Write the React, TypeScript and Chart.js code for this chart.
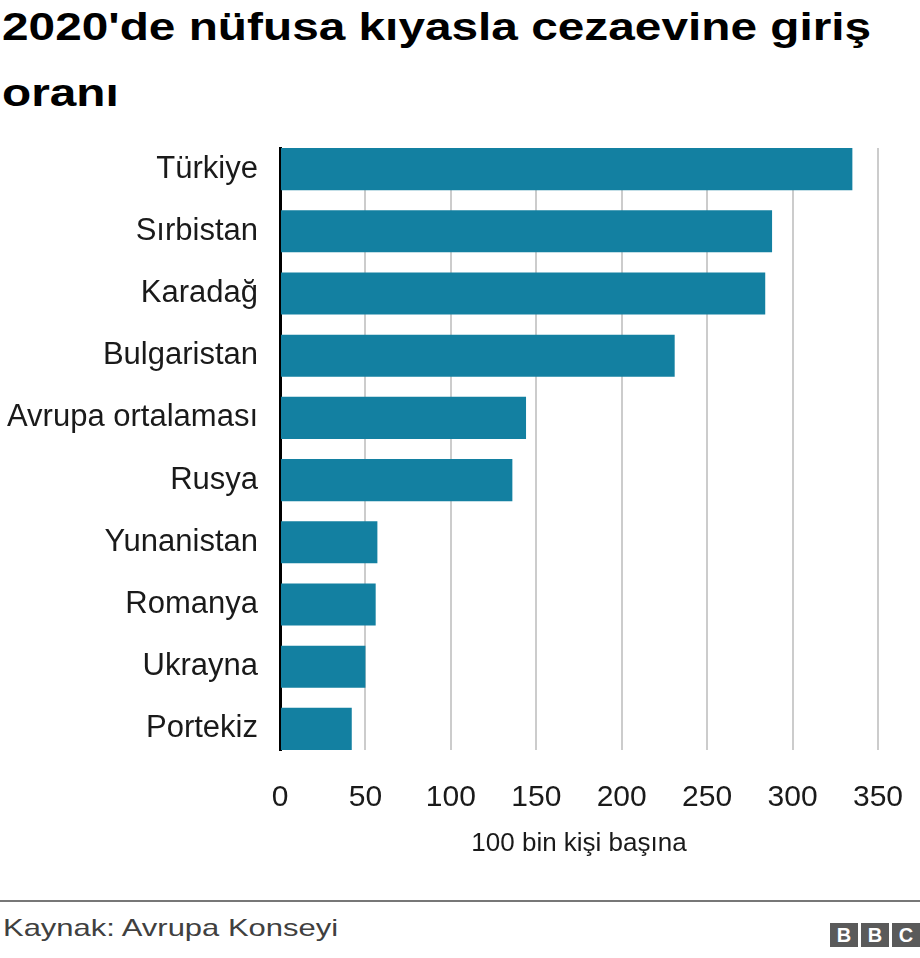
import React, { useEffect, useRef } from "react";
import { Chart, registerables } from "chart.js";

Chart.register(...registerables);

const titleText = "2020'de nüfusa kıyasla cezaevine giriş oranı";
const categories = [
  "Türkiye",
  "Sırbistan",
  "Karadağ",
  "Bulgaristan",
  "Avrupa ortalaması",
  "Rusya",
  "Yunanistan",
  "Romanya",
  "Ukrayna",
  "Portekiz",
];
const values = [335, 288, 284, 231, 144, 136, 57, 56, 50, 42];
const xTicks = [0, 50, 100, 150, 200, 250, 300, 350];
const xAxisTitle = "100 bin kişi başına";
const sourceText = "Kaynak: Avrupa Konseyi";

const FONT = "'Liberation Sans', Arial, sans-serif";
const BAR = "#1380A1";

export default function App() {
  const ref = useRef<HTMLCanvasElement | null>(null);

  useEffect(() => {
    document.body.style.margin = "0";
    if (!ref.current) return;
    const n = categories.length;
    const edge = 0.339;
    const chart = new Chart(ref.current, {
      type: "bar",
      data: {
        datasets: [
          {
            data: values.map((v, i) => ({ x: v, y: i })),
            backgroundColor: BAR,
            borderWidth: 0,
            barPercentage: 42 / 62,
            categoryPercentage: 1,
          },
        ],
      },
      options: {
        indexAxis: "y",
        animation: false,
        responsive: false,
        maintainAspectRatio: false,
        layout: { padding: { top: 18, right: 42, left: 0, bottom: 0 } },
        plugins: {
          legend: { display: false },
          tooltip: { enabled: false },
        },
        scales: {
          x: {
            type: "linear",
            min: xTicks[0],
            max: xTicks[xTicks.length - 1],
            afterBuildTicks: (s: any) => {
              s.ticks = xTicks.map((v) => ({ value: v }));
            },
            afterFit: (s: any) => {
              s.height = 130;
              s.paddingLeft = 0;
              s.paddingRight = 0;
            },
            grid: {
              color: "#cccccc",
              lineWidth: 2,
              drawTicks: false,
            },
            border: { display: false },
            ticks: {
              padding: 30,
              color: "#1a1a1a",
              font: { family: FONT, size: 30 },
              maxRotation: 0,
            },
            title: {
              display: true,
              text: xAxisTitle,
              color: "#1a1a1a",
              font: { family: FONT, size: 26 },
              padding: { top: 0, bottom: 21 },
            },
          },
          y: {
            type: "linear",
            reverse: true,
            offset: false,
            min: -edge,
            max: n - 1 + edge,
            z: 1,
            afterBuildTicks: (s: any) => {
              s.ticks = categories.map((_, i) => ({ value: i }));
            },
            afterFit: (s: any) => {
              s.width = 280;
              s.paddingTop = 0;
              s.paddingBottom = 0;
            },
            grid: { display: false, drawTicks: false, offset: false },
            border: { display: true, color: "#000000", width: 3 },
            ticks: {
              padding: 22,
              autoSkip: false,
              color: "#1a1a1a",
              font: { family: FONT, size: 31 },
              callback: (v: any) => categories[v as number] ?? "",
            },
          },
        },
      },
    });
    return () => chart.destroy();
  }, []);

  return (
    <div
      style={{
        position: "relative",
        width: 920,
        height: 958,
        background: "#ffffff",
        fontFamily: FONT,
        overflow: "hidden",
      }}
    >
      <div
        style={{
          position: "absolute",
          left: 2,
          top: -6,
          width: 750,
          fontSize: 39,
          lineHeight: "66px",
          fontWeight: "bold",
          color: "#000000",
          transform: "scaleX(1.225)",
          transformOrigin: "left top",
        }}
      >
        {titleText}
      </div>
      <canvas
        ref={ref}
        width={920}
        height={750}
        style={{ position: "absolute", left: 0, top: 130, width: 920, height: 750 }}
      />
      <div
        style={{
          position: "absolute",
          left: 0,
          top: 900,
          width: 920,
          height: 2,
          background: "#777777",
        }}
      />
      <div
        style={{
          position: "absolute",
          left: 3,
          top: 913,
          fontSize: 24,
          lineHeight: "30px",
          color: "#404040",
          whiteSpace: "nowrap",
          transform: "scaleX(1.29)",
          transformOrigin: "left top",
        }}
      >
        {sourceText}
      </div>
      <div
        style={{
          position: "absolute",
          left: 830,
          top: 923,
          display: "flex",
          gap: 3,
        }}
      >
        {["B", "B", "C"].map((l, i) => (
          <div
            key={i}
            style={{
              width: 28,
              height: 24,
              background: "#5a5a5a",
              color: "#ffffff",
              fontWeight: "bold",
              fontSize: 20,
              lineHeight: "24px",
              textAlign: "center",
            }}
          >
            {l}
          </div>
        ))}
      </div>
    </div>
  );
}
